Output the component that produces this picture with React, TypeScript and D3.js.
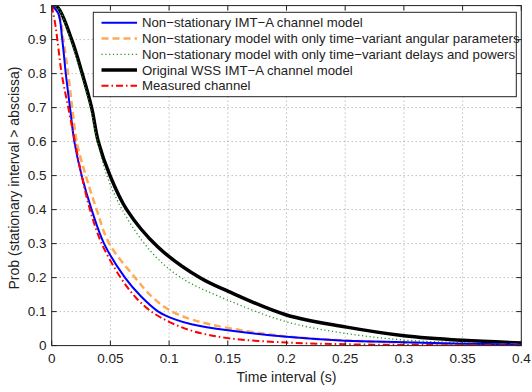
import React from "react";
import * as d3 from "d3";

const W = 532;
const H = 392;
const M = { left: 51.7, right: 10.7, top: 5.6, bottom: 46.4 };

const xTicks = [0, 0.05, 0.1, 0.15, 0.2, 0.25, 0.3, 0.35, 0.4];
const xTickLabels = ["0", "0.05", "0.1", "0.15", "0.2", "0.25", "0.3", "0.35", "0.4"];
const yTicks = [0, 0.1, 0.2, 0.3, 0.4, 0.5, 0.6, 0.7, 0.8, 0.9, 1];
const yTickLabels = ["0", "0.1", "0.2", "0.3", "0.4", "0.5", "0.6", "0.7", "0.8", "0.9", "1"];

const seriesNames = [
  "Non\u2212stationary IMT\u2212A channel model",
  "Non\u2212stationary model with only time\u2212variant angular parameters",
  "Non\u2212stationary model with only time\u2212variant delays and powers",
  "Original WSS IMT\u2212A channel model",
  "Measured channel",
];

// Non-stationary IMT-A
const tBlue = [0, 0.0056, 0.009, 0.012, 0.0156, 0.0193, 0.0255, 0.034, 0.0446, 0.0624, 0.076, 0.0908, 0.105, 0.12, 0.15, 0.2, 0.25, 0.3, 0.35, 0.4];
const pBlue = [1, 0.977, 0.9, 0.8, 0.7, 0.6, 0.5, 0.4, 0.3, 0.2, 0.145, 0.1, 0.077, 0.062, 0.045, 0.026, 0.0145, 0.01, 0.0056, 0.003];
// angular only
const tOrange = [0, 0.006, 0.0099, 0.014, 0.0175, 0.0213, 0.029, 0.0383, 0.049, 0.071, 0.085, 0.1, 0.12, 0.15, 0.2, 0.25, 0.3, 0.35, 0.4];
const pOrange = [1, 0.975, 0.9, 0.8, 0.7, 0.6, 0.5, 0.4, 0.3, 0.2, 0.145, 0.105, 0.076, 0.052, 0.027, 0.015, 0.009, 0.005, 0.002];
// delays and powers only
const tGreen = [0, 0.005, 0.016, 0.025, 0.033, 0.039, 0.047, 0.06, 0.0837, 0.11, 0.15, 0.2, 0.25, 0.3, 0.35, 0.4];
const pGreen = [1, 0.995, 0.9, 0.8, 0.7, 0.6, 0.5, 0.4, 0.28, 0.2, 0.134, 0.07, 0.036, 0.0165, 0.0085, 0.004];
// original WSS
const tBlack = [0, 0.005, 0.017, 0.026, 0.034, 0.0397, 0.0497, 0.0639, 0.0905, 0.126, 0.15, 0.2, 0.25, 0.3, 0.35, 0.4];
const pBlack = [1, 0.995, 0.9, 0.8, 0.7, 0.6, 0.5, 0.4, 0.29, 0.2, 0.16, 0.09, 0.055, 0.029, 0.0155, 0.008];
// measured
const tRed = [0, 0.0028, 0.0048, 0.0085, 0.0141, 0.0198, 0.0255, 0.0326, 0.0426, 0.0587, 0.072, 0.085, 0.1, 0.12, 0.15, 0.2, 0.25, 0.3, 0.35, 0.4];
const pRed = [1, 0.95, 0.9, 0.8, 0.7, 0.6, 0.5, 0.4, 0.3, 0.2, 0.14, 0.1, 0.07, 0.043, 0.022, 0.009, 0.004, 0.002, 0.001, 0.0005];

const styles = [
  { color: "#0000ff", width: 2, dash: "" },
  { color: "#ffaa55", width: 2.5, dash: "7,4" },
  { color: "#229922", width: 1.3, dash: "1.2,2.6" },
  { color: "#000000", width: 3.5, dash: "" },
  { color: "#ff0000", width: 2, dash: "7,3,1.5,3" },
];

const FONT = "'Liberation Sans', Arial, Helvetica, sans-serif";

export default function App() {
  const x = d3.scaleLinear().domain([0, 0.4]).range([M.left, W - M.right]);
  const y = d3.scaleLinear().domain([0, 1]).range([H - M.bottom, M.top]);
  const line = d3
    .line<[number, number]>()
    .x((d) => x(d[0]))
    .y((d) => y(d[1]))
    .curve(d3.curveCatmullRom.alpha(0.5));

  const data: [number, number][][] = [
    tBlue.map((t, i) => [t, pBlue[i]]),
    tOrange.map((t, i) => [t, pOrange[i]]),
    tGreen.map((t, i) => [t, pGreen[i]]),
    tBlack.map((t, i) => [t, pBlack[i]]),
    tRed.map((t, i) => [t, pRed[i]]),
  ];
  const drawOrder = [3, 2, 1, 0, 4];

  const x0 = x(0), x1 = x(0.4), y0 = y(0), y1 = y(1);
  const lg = { x: 93.3, y: 12.3, w: 423, h: 84.4, row: 15.75 };

  return (
    <svg width={W} height={H} style={{ position: "absolute", left: 0, top: 0, background: "#fff" }} fontFamily={FONT}>
      <rect x={0} y={0} width={W} height={H} fill="#fff" />
      {xTicks.map((t, i) =>
        i > 0 && i < xTicks.length - 1 ? (
          <line key={"gx" + i} x1={x(t)} x2={x(t)} y1={y0} y2={y1} stroke="#888" strokeWidth={0.8} strokeDasharray="1,3" />
        ) : null
      )}
      {yTicks.map((t, i) =>
        i > 0 && i < yTicks.length - 1 ? (
          <line key={"gy" + i} x1={x0} x2={x1} y1={y(t)} y2={y(t)} stroke="#888" strokeWidth={0.8} strokeDasharray="1,3" />
        ) : null
      )}
      <defs>
        <clipPath id="plotclip">
          <rect x={x0} y={y1} width={x1 - x0} height={y0 - y1} />
        </clipPath>
      </defs>
      <g clipPath="url(#plotclip)">
        {drawOrder.map((k) => (
          <path
            key={"s" + k}
            d={line(data[k]) || ""}
            fill="none"
            stroke={styles[k].color}
            strokeWidth={styles[k].width}
            strokeDasharray={styles[k].dash || undefined}
          />
        ))}
      </g>
      {xTicks.map((t, i) => (
        <g key={"tx" + i}>
          <line x1={x(t)} x2={x(t)} y1={y0} y2={y0 - 5} stroke="#222" strokeWidth={1} />
          <line x1={x(t)} x2={x(t)} y1={y1} y2={y1 + 5} stroke="#222" strokeWidth={1} />
          <text x={x(t)} y={363} textAnchor="middle" fontSize={13.5} fill="#222">
            {xTickLabels[i]}
          </text>
        </g>
      ))}
      {yTicks.map((t, i) => (
        <g key={"ty" + i}>
          <line x1={x0} x2={x0 + 5} y1={y(t)} y2={y(t)} stroke="#222" strokeWidth={1} />
          <line x1={x1} x2={x1 - 5} y1={y(t)} y2={y(t)} stroke="#222" strokeWidth={1} />
          <text x={46.5} y={Math.max(y(t) + 4.8, 12.5)} textAnchor="end" fontSize={13.5} fill="#222">
            {yTickLabels[i]}
          </text>
        </g>
      ))}
      <rect x={x0} y={y1} width={x1 - x0} height={y0 - y1} fill="none" stroke="#222" strokeWidth={1} />
      <text x={(x0 + x1) / 2} y={382} textAnchor="middle" fontSize={14} fill="#222">
        Time interval (s)
      </text>
      <text transform={`translate(19,178) rotate(-90)`} textAnchor="middle" fontSize={14} fill="#222">
        Prob (stationary interval &gt; abscissa)
      </text>
      <rect x={lg.x} y={lg.y} width={lg.w} height={lg.h} fill="#fff" stroke="#222" strokeWidth={1} />
      {seriesNames.map((name, i) => {
        const cy = lg.y + 10.5 + i * lg.row;
        return (
          <g key={"lg" + i}>
            <line
              x1={101.5}
              x2={137}
              y1={cy}
              y2={cy}
              stroke={styles[i].color}
              strokeWidth={styles[i].width}
              strokeDasharray={styles[i].dash || undefined}
            />
            <text x={142} y={cy + 4.5} fontSize={13.2} fill="#222">
              {name}
            </text>
          </g>
        );
      })}
    </svg>
  );
}
